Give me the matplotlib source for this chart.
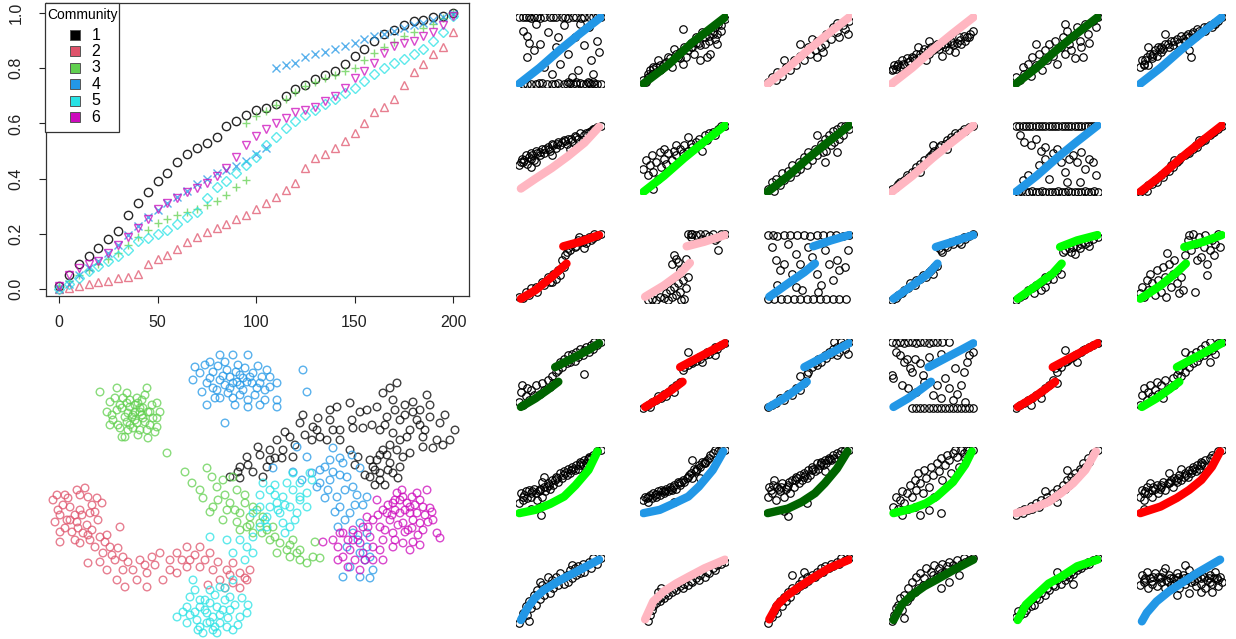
import numpy as np
import matplotlib.pyplot as plt
from matplotlib.patches import Rectangle

plt.rcParams['font.family'] = ['Liberation Sans', 'DejaVu Sans']

W, H = 1236, 639
comm_col = ['#000000', '#DF536B', '#61D04F', '#2297E6', '#28E2E5', '#CD0BBC']
comm_mark = ['o', '^', '+', 'x', 'D', 'v']
communities = ['1', '2', '3', '4', '5', '6']

# ---- top left: cumulative fraction vs rank (rank step 5) ----
frac_1 = [0.01, 0.05, 0.09, 0.12, 0.15, 0.18, 0.21, 0.27, 0.31, 0.35, 0.39, 0.42, 0.46, 0.49,
          0.51, 0.53, 0.55, 0.59, 0.61, 0.63, 0.65, 0.655, 0.67, 0.70, 0.725, 0.74, 0.76, 0.775,
          0.79, 0.815, 0.845, 0.87, 0.90, 0.925, 0.94, 0.955, 0.97, 0.975, 0.985, 0.99, 1.0]
frac_2 = [0.0, 0.005, 0.01, 0.02, 0.025, 0.03, 0.04, 0.045, 0.055, 0.09, 0.11, 0.125, 0.145, 0.17,
          0.19, 0.205, 0.22, 0.235, 0.255, 0.27, 0.29, 0.31, 0.335, 0.36, 0.385, 0.44, 0.475, 0.49,
          0.51, 0.535, 0.565, 0.60, 0.64, 0.66, 0.69, 0.74, 0.785, 0.815, 0.85, 0.875, 0.93]
frac_3a = [0.01, 0.03, 0.05, 0.07, 0.09, 0.11, 0.13, 0.16, 0.19, 0.215, 0.24, 0.255, 0.27, 0.28,
           0.29, 0.305, 0.32, 0.34, 0.37, 0.395]
frac_3b = [0.60, 0.625, 0.645, 0.665, 0.69, 0.715, 0.735, 0.75, 0.765, 0.775, 0.79, 0.80, 0.83,
           0.855, 0.875, 0.895, 0.915, 0.93, 0.945, 0.96, 0.98, 1.0]
frac_4a = [0.0, 0.02, 0.05, 0.075, 0.10, 0.13, 0.16, 0.195, 0.23, 0.26, 0.285, 0.31, 0.335, 0.355,
           0.38, 0.40, 0.42, 0.43, 0.445, 0.465, 0.49, 0.51]
frac_4b = [0.80, 0.81, 0.82, 0.84, 0.85, 0.86, 0.87, 0.88, 0.89, 0.905, 0.915, 0.925, 0.935, 0.945,
           0.955, 0.965, 0.975, 0.985, 0.995]
frac_5 = [0.0, 0.02, 0.04, 0.065, 0.085, 0.10, 0.12, 0.14, 0.175, 0.185, 0.20, 0.215, 0.235, 0.26,
          0.28, 0.33, 0.37, 0.39, 0.42, 0.45, 0.48, 0.52, 0.55, 0.585, 0.61, 0.63, 0.65, 0.67,
          0.69, 0.71, 0.73, 0.755, 0.78, 0.80, 0.82, 0.835, 0.85, 0.87, 0.90, 0.93, 0.99]
frac_6 = [0.01, 0.05, 0.075, 0.09, 0.10, 0.13, 0.16, 0.19, 0.22, 0.255, 0.29, 0.31, 0.33, 0.35,
          0.365, 0.385, 0.41, 0.44, 0.48, 0.52, 0.555, 0.58, 0.60, 0.62, 0.64, 0.65, 0.66, 0.68,
          0.70, 0.73, 0.765, 0.79, 0.82, 0.855, 0.88, 0.89, 0.90, 0.915, 0.93, 0.955, 0.99]
# (community index, first rank, values)
frac_series = [(0, 0, frac_1), (1, 0, frac_2), (2, 0, frac_3a), (2, 95, frac_3b),
               (3, 0, frac_4a), (3, 110, frac_4b), (4, 0, frac_5), (5, 0, frac_6)]

# ---- bottom left: 2-d embedding (pixel-like units) ----
emb_1 = [(230,477),(240,467),(247,457),(258,447),(267,467),(263,477),(253,472),(277,440),(283,450),
         (290,437),(293,457),(300,423),(303,415),(312,440),(317,430),(320,437),(330,420),(333,430),
         (337,407),(340,440),(350,403),(352,420),(353,428),(358,457),(363,428),(367,410),(377,407),
         (383,393),(390,388),(397,383),(393,400),(405,405),(413,402),(427,395),(387,417),(400,420),
         (417,420),(430,417),(440,423),(455,430),(380,430),(393,433),(407,437),(423,437),(437,440),
         (443,445),(383,450),(397,450),(410,453),(423,447),(433,448),(373,467),(380,473),(390,463),
         (400,467),(370,477),(380,480),(393,473),(377,460),(403,457),(387,455),(282,458),(240,478),
         (270,450),(313,427),(327,440),(375,470),(385,485),(420,425),(270,460),
         (405,415),(413,412),(395,410),(385,425),(430,405),(445,415),(450,440),(425,430),(410,430),
         (400,440),(390,445),(380,455),(370,460),(388,470),(398,478),(375,485),(365,475),(355,465),
         (350,450),(340,430),(330,410),(318,418),(305,435),(295,445),(275,458),(260,455),(248,465),
         (238,472),(285,432),(360,412),(372,425),(420,410)]
emb_2 = [(53,500),(63,505),(77,490),(85,488),(88,497),(97,498),(102,503),(58,510),(70,507),(80,510),
         (90,513),(55,522),(67,520),(77,522),(87,525),(98,520),(60,532),(72,532),(83,533),(92,530),
         (100,537),(107,535),(60,542),(80,543),(95,547),(110,547),(120,527),(118,548),(103,553),
         (115,560),(123,557),(100,562),(88,563),(107,570),(123,570),(133,570),(137,580),(147,573),
         (140,560),(152,557),(160,553),(117,580),(125,587),(147,587),(163,580),(170,560),(177,553),
         (187,547),(190,560),(200,547),(210,553),(200,567),(213,570),(227,570),(233,563),(240,573),
         (250,570),(220,580),(233,583),(247,580),(240,588),(177,573),(187,567),(75,515),(65,495),
         (57,495),(68,498),(80,495),(92,505),(60,515),(70,520),(82,515),(95,512),(65,528),(78,528),
         (88,535),(75,540),(90,540),(105,542),(112,555),(128,562),(145,565),(155,565),(170,570),
         (182,560),(195,555),(205,560),(218,562),(230,575),(245,578),(208,585),(225,588)]
emb_3 = [(100,392),(117,388),(147,388),(127,393),(110,402),(120,405),(137,398),(157,403),(107,412),
         (117,410),(130,407),(140,408),(150,412),(133,415),(143,418),(157,418),(113,420),(127,422),
         (137,423),(150,425),(120,428),(133,428),(147,430),(157,427),(122,437),(148,438),(125,437),
         (140,412),(135,412),(132,417),(138,403),(128,413),(142,415),
         (123,398),(145,395),(152,405),(112,415),(122,408),(130,400),(135,420),(145,422),(153,418),
         (118,425),(128,430),(140,430),(155,432),(110,425),(135,405),(142,400),(125,417),(148,412),
         (138,435),(130,425),(115,398),(160,412),(127,403),(143,408),
         (167,453),(185,472),(207,468),(212,477),(192,483),(200,490),(217,487),(223,480),(233,477),
         (237,490),(203,498),(213,507),(230,503),(245,503),(210,512),(227,510),(240,513),(223,520),
         (237,522),(250,517),(257,510),(247,527),(260,523),(253,533),(267,530),(273,527),(270,540),
         (280,543),(287,550),(293,540),(297,553),(290,557),(300,560),(307,563),(315,542),(320,558),
         (313,557),(277,553),(263,517),(253,507),(225,495),(245,495),(235,510),(250,525),(240,530),
         (262,533),(275,537),(290,545),(300,550),(218,500)]
emb_4 = [(195,367),(210,362),(220,355),(233,355),(248,355),(200,373),(213,372),(227,370),(240,375),
         (253,373),(267,370),(193,380),(207,383),(220,380),(233,383),(247,382),(260,383),(277,383),
         (202,392),(217,390),(230,388),(243,390),(257,388),(270,387),(220,398),(233,398),(248,400),
         (277,400),(207,405),(277,407),(248,407),(225,423),(303,370),(307,392),(237,382),(230,377),
         (243,378),
         (205,365),(218,366),(225,362),(238,365),(245,368),(258,366),(210,378),(223,376),(236,372),
         (250,377),(262,377),(270,377),(213,388),(225,385),(240,385),(252,383),(265,390),(228,393),
         (240,395),(255,395),(265,400),(215,398),(235,405),(260,405),
         (297,447),(307,457),(333,448),(340,458),(352,455),(325,467),(333,472),(343,463),(360,468),
         (312,473),(320,483),(347,477),(353,487),(328,490),(337,497),(357,495),(367,497),(325,498),
         (340,507),(350,513),(335,512),(363,505),(338,527),(353,533),(360,523),(367,533),(347,547),
         (360,553),(370,557),(350,567),(343,577),(360,577),(370,578),(373,570),(367,547),(273,468),
         (293,472),(302,480),(317,487),(330,480),(345,490),(355,505),(345,520),(358,540),(365,560),
         (330,460),(320,470),(340,475)]
emb_5 = [(177,617),(187,607),(190,597),(200,600),(210,590),(220,587),(230,597),(233,580),(217,607),
         (207,613),(197,620),(187,623),(200,627),(213,630),(227,627),(233,630),(240,617),(247,613),
         (248,605),(203,633),(217,633),(210,603),(223,610),(200,607),(213,617),(207,623),(220,623),
         (193,580),(210,537),(227,540),(240,540),
         (195,612),(205,600),(215,595),(225,600),(235,605),(220,615),(228,618),(210,622),(198,630),
         (190,615),(183,612),(238,625),(215,627),(205,610),(225,588),(195,590),(242,598),(230,610),
         (233,553),(247,547),(253,537),(260,527),(267,517),(277,503),(283,497),(287,483),(293,490),
         (300,497),(307,493),(270,507),(260,507),(253,513),(280,513),(290,507),(297,513),(283,523),
         (267,527),(290,527),(253,553),(245,560),(263,483),(293,473),(310,473),(300,500),(307,507),
         (312,480),(275,495),(285,533),(260,495),(270,490),(278,510),(295,520),(265,520),(285,505),
         (300,483),(275,485)]
emb_6 = [(323,542),(333,540),(343,533),(353,530),(363,527),(373,520),(383,510),(393,503),(403,497),
         (417,493),(427,490),(430,508),(433,520),(437,533),(440,538),(420,500),(410,507),(400,513),
         (390,520),(380,527),(370,537),(360,543),(350,550),(343,557),(348,567),(360,570),(373,560),
         (383,560),(393,547),(403,543),(413,542),(423,530),(413,520),(403,523),(393,533),(383,540),
         (373,547),(363,553),(407,503),(410,513),(417,513),(400,500),(397,493),(377,500),(387,513),
         (420,523),(338,547),(353,540),(367,517),(423,507),(405,532),(395,510),(412,528),
         (395,500),(405,510),(415,505),(425,515),(398,525),(408,530),(418,535),(428,522),(388,505),
         (378,515),(368,527),(358,535),(348,540),(340,533),(385,530),(395,540),(410,550),(420,545),
         (432,512),(412,497),(402,490),(392,515),(380,550),(365,560),(355,560),(338,560)]
emb_all = [emb_1, emb_2, emb_3, emb_4, emb_5, emb_6]

# ---- right: 6x6 small panels (0-100 units), line knots + black points ----
BLUE, DGREEN, PINK, GREEN, RED = '#2297E6', '#006400', '#FFB6C1', '#00FF00', '#FF0000'
panel_color = [BLUE, DGREEN, PINK, PINK, DGREEN, BLUE,
               PINK, GREEN, DGREEN, PINK, BLUE, RED,
               RED, PINK, BLUE, BLUE, GREEN, GREEN,
               DGREEN, RED, BLUE, BLUE, RED, GREEN,
               GREEN, BLUE, DGREEN, GREEN, PINK, RED,
               BLUE, PINK, RED, DGREEN, GREEN, BLUE]
STR = [(0,0),(25,24),(50,51),(75,76),(100,100)]
panel_line = [
    STR, [(0,0),(30,28),(60,62),(100,100)], STR, STR, STR, STR,
    [(2,5),(20,20),(40,36),(60,54),(80,74),(98,98)], STR, STR, STR, STR, STR,
    [(2,2),(20,15),(40,35),(58,55),None,(54,81),(75,88),(98,98)],
    [(2,5),(25,22),(45,40),(57,56),None,(53,81),(75,88),(100,98)],
    [(2,5),(25,25),(45,42),(58,55),None,(56,81),(78,90),(100,98)],
    [(2,2),(25,22),(45,40),(56,55),None,(54,80),(75,88),(100,98)],
    [(2,2),(25,22),(45,40),(56,55),None,(54,80),(75,90),(100,98)],
    [(0,2),(25,22),(45,42),(56,55),None,(54,80),(78,88),(100,98)],
    [(2,2),(20,15),(35,28),(48,40),None,(44,62),(65,75),(85,88),(98,98)],
    [(2,2),(20,15),(35,28),(48,40),None,(45,62),(65,75),(85,88),(100,98)],
    [(2,2),(20,15),(35,28),(48,40),None,(45,62),(65,75),(85,88),(100,98)],
    [(2,2),(20,15),(35,28),(48,40),None,(45,62),(65,75),(85,88),(100,98)],
    [(2,2),(20,15),(35,28),(48,40),None,(45,62),(65,75),(85,88),(100,98)],
    [(2,2),(20,15),(35,28),(48,40),None,(45,62),(65,75),(85,88),(100,98)],
    [(0,5),(20,10),(38,19),(55,30),(69,47),(85,70),(96,98)],
    [(0,5),(20,10),(38,20),(55,30),(68,45),(85,70),(98,98)],
    [(0,5),(25,12),(42,22),(58,35),(70,50),(85,72),(98,98)],
    [(2,5),(25,12),(42,20),(55,30),(75,52),(90,78),(98,98)],
    [(0,5),(20,12),(40,22),(55,35),(70,50),(85,70),(98,98)],
    [(0,5),(25,15),(45,28),(60,40),(75,55),(88,75),(98,98)],
    [(2,7),(10,25),(19,40),(30,52),(50,67),(75,83),(98,98)],
    [(2,8),(12,35),(25,50),(40,62),(55,72),(75,85),(100,98)],
    [(2,8),(12,30),(25,45),(40,58),(55,70),(75,85),(100,98)],
    [(2,7),(12,30),(25,45),(40,58),(55,68),(75,82),(100,98)],
    [(2,7),(12,30),(25,45),(40,62),(55,72),(75,88),(100,98)],
    [(2,5),(8,18),(20,35),(35,50),(50,62),(70,78),(98,98)],
]
panel_dots = [
    # row 1
    [(0,100),(8,100),(15,99),(22,100),(30,100),(45,100),(60,99),(70,100),(80,100),(90,100),(100,100),
     (5,0),(15,0),(28,1),(40,0),(55,0),(62,1),(70,0),(78,0),(85,1),(92,0),(100,0),(5,80),(10,72),
     (20,90),(18,50),(10,40),(25,60),(35,78),(45,55),(50,30),(55,88),(60,45),(68,70),(72,20),(80,58),
     (85,85),(88,35),(95,65),(98,48),(65,10),(40,15),(30,25),(90,15),(75,90),(12,62),(48,70),(38,100),
     (52,100),(34,0),(48,1),(4,100),(12,100),(18,100),(26,99),(42,100),(56,100),(66,100),(76,99),
     (86,100),(96,100),(10,0),(20,0),(24,1),(44,0),(58,0),(66,0),(74,1),(82,0),(88,0),(96,0),(90,2),
     (84,3),(70,3),(60,2)],
    [(0,5),(5,10),(8,20),(10,15),(15,25),(18,35),(20,20),(25,30),(30,40),(35,25),(40,45),(45,38),(50,55),
     (52,40),(49,82),(60,55),(62,45),(65,70),(70,35),(72,78),(75,60),(80,65),(82,45),(85,75),(88,85),
     (90,60),(95,80),(100,98),(92,90),(48,30),(58,62),(68,62),(78,40),(38,52),(3,2),(12,22),
     (5,15),(8,12),(12,25),(15,18),(20,28),(22,22),(28,32),(32,38),(42,40),(45,48),(55,50),(58,55),
     (65,62),(70,58),(75,70),(80,72),(85,80),(90,75),(95,88),(88,68)],
    [(0,3),(5,10),(10,5),(12,18),(18,12),(22,25),(28,20),(32,35),(35,28),(40,42),(45,35),(50,55),(52,45),
     (58,50),(60,65),(65,55),(70,60),(72,75),(78,68),(80,85),(85,78),(88,70),(92,88),(95,82),(100,95),
     (60,40),(68,48),(40,60),(55,68),(85,92),(98,75),(20,35)],
    [(0,20),(3,28),(5,22),(8,30),(10,25),(12,35),(15,28),(18,38),(20,32),(25,40),(28,35),(30,45),(35,40),
     (38,48),(40,52),(45,45),(48,55),(50,50),(55,60),(58,52),(60,58),(65,55),(68,62),(70,50),(72,65),
     (75,58),(80,62),(82,70),(85,60),(88,72),(90,65),(95,70),(100,80),(42,35),(45,65),(62,42),(78,48),
     (32,55),(2,22),(6,26),(14,30),(22,34),(26,38),(34,44),(44,50),(52,54),(56,56),(64,60),(74,62),
     (84,66),(92,70),(96,75)],
    [(0,10),(5,5),(8,25),(10,15),(15,30),(18,12),(20,40),(25,28),(28,45),(32,20),(35,50),(38,35),(40,60),
     (45,42),(48,65),(50,30),(55,55),(58,70),(60,45),(62,80),(65,60),(68,50),(70,72),(72,38),(75,85),
     (78,65),(80,55),(85,90),(88,75),(90,62),(95,95),(98,85),(100,100),(82,40),(60,90),(25,60)],
    [(0,25),(2,35),(5,30),(8,40),(10,28),(12,45),(15,38),(18,50),(20,42),(22,55),(25,48),(28,52),(30,60),
     (35,55),(38,65),(40,58),(45,68),(48,62),(50,72),(55,65),(58,75),(60,70),(65,78),(68,72),(70,82),
     (75,78),(78,85),(80,80),(85,88),(88,85),(90,92),(95,95),(100,100),(60,50),(62,40),(10,55),(30,75),
     (4,28),(6,35),(14,42),(16,45),(24,52),(26,55),(34,60),(42,65),(52,68),(56,72),(64,75),(72,80),
     (82,85),(92,90)],
    # row 2
    [(0,40),(3,50),(5,45),(8,55),(10,42),(12,52),(15,58),(18,48),(20,62),(25,55),(28,65),(30,58),(35,68),
     (38,62),(40,72),(45,66),(48,75),(50,70),(55,78),(58,72),(60,80),(65,76),(68,84),(72,80),(75,88),
     (80,85),(85,90),(88,92),(92,95),(95,98),(100,100),(20,45),(40,55),(62,65),(15,38),(78,78),
     (2,45),(6,48),(14,50),(16,55),(22,58),(26,60),(32,65),(36,65),(42,70),(46,72),(52,75),(56,76),
     (64,80),(70,82),(82,88),(90,95)],
    [(0,35),(3,48),(5,25),(8,40),(10,55),(12,30),(15,45),(18,20),(20,60),(22,38),(25,50),(28,42),(30,58),
     (35,48),(38,62),(40,55),(45,65),(48,58),(50,70),(55,62),(58,72),(60,68),(65,75),(68,80),(70,72),
     (75,85),(78,78),(80,88),(85,90),(88,85),(92,95),(95,100),(100,100),(40,70),(12,5),(55,82),(25,65),
     (72,62)],
    [(0,5),(5,15),(8,2),(10,20),(15,10),(18,28),(20,18),(25,32),(28,22),(30,40),(35,30),(38,45),(40,35),
     (45,52),(48,40),(50,60),(55,48),(58,65),(60,55),(65,72),(68,60),(70,80),(72,62),(75,85),(78,70),
     (80,92),(82,75),(85,95),(88,80),(90,100),(92,85),(95,100),(100,95),(70,45),(85,60),(60,85)],
    [(0,5),(5,8),(8,12),(10,15),(15,18),(18,25),(20,22),(25,30),(28,32),(30,38),(35,42),(38,40),(40,48),
     (45,52),(48,55),(50,58),(52,62),(55,60),(58,68),(60,70),(65,72),(68,78),(70,75),(72,82),(75,80),
     (78,88),(80,85),(85,90),(88,95),(90,92),(95,98),(100,100),(50,70),(68,65),(35,30)],
    [(0,100),(8,100),(16,100),(24,99),(32,100),(40,100),(48,100),(56,100),(64,99),(72,100),(80,100),
     (88,100),(96,100),(2,0),(12,0),(20,1),(28,0),(36,0),(44,0),(52,1),(60,0),(68,0),(76,0),(84,1),
     (92,0),(100,0),(5,85),(10,75),(18,70),(25,80),(30,62),(35,68),(45,58),(50,65),(55,45),(28,40),
     (15,25),(8,18),(40,20),(60,30),(65,50),(70,55),(75,45),(80,60),(85,35),(90,50),(95,45),(98,25),
     (62,15),(78,15),(35,50),(4,100),(12,99),(20,100),(28,100),(36,99),(44,100),(52,100),(60,100),
     (68,100),(76,100),(84,99),(92,100),(6,1),(16,0),(24,0),(32,1),(40,0),(48,0),(56,0),(64,1),(72,0),
     (80,0),(88,0),(96,1)],
    [(0,0),(5,5),(8,2),(10,10),(15,12),(18,18),(20,15),(25,25),(28,22),(30,30),(35,32),(38,40),(40,38),
     (45,45),(48,48),(50,52),(55,55),(58,60),(60,58),(65,65),(68,70),(70,68),(75,75),(78,80),(80,78),
     (85,85),(88,88),(90,90),(95,95),(100,100),(42,48),(72,78)],
    # row 3
    [(0,5),(5,3),(8,12),(12,8),(15,18),(20,20),(22,12),(28,28),(30,22),(35,35),(38,28),(42,40),(45,32),
     (48,45),(50,38),(55,50),(52,60),(56,68),(58,72),(60,78),(62,75),(65,85),(68,80),(70,82),(72,90),
     (73,95),(78,88),(80,92),(82,86),(85,95),(88,90),(90,94),(92,100),(95,96),(100,100),(80,78),(40,28)],
    [(5,0),(10,2),(15,0),(20,5),(25,3),(28,10),(30,0),(32,15),(35,5),(38,20),(40,8),(42,25),(45,12),
     (48,30),(50,2),(52,18),(55,35),(45,45),(40,62),(38,68),(42,58),(52,62),(55,100),(58,95),(60,100),
     (65,98),(70,100),(72,92),(75,100),(80,96),(85,100),(88,90),(90,94),(92,75),(95,100),(100,100),
     (35,55),(46,0),(58,100)],
    [(0,98),(6,98),(12,97),(20,98),(28,98),(36,98),(44,98),(52,97),(60,98),(68,98),(76,98),(84,98),
     (92,97),(100,98),(0,2),(8,2),(16,2),(24,2),(32,1),(40,2),(48,2),(56,1),(64,2),(72,2),(80,2),(88,1),
     (96,2),(5,80),(10,60),(15,45),(20,55),(25,85),(30,40),(35,70),(12,22),(40,55),(42,15),(50,80),
     (55,65),(60,40),(65,22),(70,75),(75,55),(80,30),(85,60),(88,45),(95,50),(98,75),(62,12),(35,20)],
    [(0,0),(5,3),(8,8),(12,10),(15,15),(20,18),(22,25),(28,22),(30,30),(35,32),(38,38),(42,35),(45,42),
     (48,45),(52,50),(55,52),(58,78),(60,75),(65,82),(68,80),(72,88),(75,85),(80,90),(82,88),(88,95),
     (90,92),(95,97),(100,100),(50,40),(62,72),(85,85)],
    [(0,0),(5,5),(10,8),(15,15),(20,18),(25,22),(30,28),(35,35),(38,30),(42,38),(45,32),(50,45),(55,40),
     (22,10),(30,15),(58,72),(60,75),(65,78),(68,72),(70,80),(75,82),(78,78),(80,85),(85,84),(88,88),
     (90,82),(95,92),(100,95),(72,70),(35,20)],
    [(0,10),(2,20),(5,5),(8,30),(10,15),(12,40),(15,25),(18,8),(20,45),(22,30),(25,12),(28,50),(30,35),
     (32,5),(35,55),(38,20),(40,40),(42,60),(45,25),(48,10),(50,35),(52,15),(55,68),(58,90),(60,98),
     (62,75),(65,100),(68,85),(70,60),(72,95),(75,65),(78,80),(80,98),(82,55),(85,75),(88,90),(90,68),
     (92,85),(95,100),(98,80),(67,12),(33,71),(82,38)],
    # row 4
    [(0,10),(2,25),(5,5),(8,18),(10,30),(12,12),(15,28),(18,20),(20,35),(25,22),(28,38),(30,28),(35,42),
     (38,32),(40,48),(42,38),(45,55),(48,58),(50,70),(52,62),(55,75),(58,68),(60,80),(62,70),(65,82),
     (68,72),(70,85),(72,78),(75,90),(78,80),(80,88),(82,92),(85,85),(88,95),(90,90),(92,100),(95,95),
     (100,100),(80,52),(3,35)],
    [(0,0),(5,5),(8,2),(10,10),(15,12),(18,18),(22,15),(25,22),(30,25),(35,30),(40,35),(45,40),(28,18),
     (38,25),(48,58),(50,62),(55,65),(58,70),(60,68),(65,72),(68,78),(70,75),(75,80),(78,85),(80,82),
     (85,88),(88,92),(90,90),(95,95),(100,98),(55,85),(72,70),(88,80)],
    [(0,2),(5,5),(10,8),(15,15),(20,12),(25,22),(30,20),(35,30),(40,28),(45,38),(48,52),(50,55),(55,62),
     (58,68),(60,65),(62,75),(65,70),(70,80),(72,76),(75,85),(78,82),(80,90),(82,100),(85,92),(88,85),
     (90,100),(92,95),(95,90),(100,100),(85,80),(40,48),(98,82)],
    [(0,100),(5,98),(10,100),(15,99),(20,100),(25,100),(30,98),(35,100),(40,100),(45,99),(50,100),
     (55,100),(62,100),(70,100),(25,0),(30,1),(35,0),(40,1),(45,0),(50,0),(55,1),(60,0),(65,0),(70,1),
     (75,0),(80,1),(85,0),(90,0),(95,1),(100,0),(0,50),(2,45),(5,85),(10,80),(12,35),(15,70),(18,75),
     (20,30),(22,60),(25,55),(28,75),(30,25),(35,68),(38,50),(40,40),(45,78),(50,20),(55,35),(60,15),
     (65,45),(70,30),(75,12),(80,22),(85,35),(88,55),(92,70),(95,80),(100,85),(90,10),(60,82),(78,60)],
    [(0,0),(5,5),(10,8),(15,12),(20,15),(25,20),(30,25),(35,30),(40,35),(45,42),(50,38),(18,5),(30,15),
     (48,60),(52,65),(55,62),(60,70),(62,72),(65,75),(70,78),(72,80),(75,82),(80,85),(82,88),(85,90),
     (90,92),(95,95),(100,98),(60,88),(75,70),(50,55)],
    [(0,5),(2,20),(5,30),(8,12),(10,25),(12,35),(15,18),(18,28),(20,40),(22,22),(25,35),(28,15),(30,42),
     (35,30),(40,45),(42,35),(45,50),(48,58),(50,48),(52,65),(55,55),(58,72),(60,62),(62,80),(65,68),
     (68,85),(70,72),(72,78),(75,90),(78,80),(80,95),(82,85),(85,100),(88,88),(90,92),(92,82),(95,98),
     (100,100),(55,85),(85,70)],
    # row 5
    [(0,20),(2,35),(5,25),(8,38),(10,28),(12,40),(15,30),(18,42),(20,35),(22,25),(25,40),(28,30),(30,45),
     (32,38),(35,50),(38,42),(40,55),(42,48),(45,60),(48,52),(50,65),(52,58),(55,68),(58,62),(60,72),
     (62,65),(65,75),(68,70),(70,78),(72,72),(75,82),(78,78),(80,85),(82,80),(85,90),(88,88),(90,92),
     (95,98),(100,100),(30,60),(15,12),(25,15),(28,52),(27,2),(4,30),(6,32),(14,35),(16,38),(24,38),
     (26,42),(34,45),(36,48),(44,55),(46,58),(54,62),(56,66),(64,70),(66,72),(74,78),(76,80),(84,86),
     (86,88)],
    [(0,25),(2,30),(5,22),(8,32),(10,28),(12,35),(15,30),(18,38),(20,32),(22,40),(25,35),(28,42),(30,38),
     (32,45),(35,40),(38,48),(40,42),(42,52),(45,48),(48,55),(50,52),(55,60),(58,65),(60,58),(62,72),
     (65,68),(68,78),(70,75),(72,82),(75,80),(78,85),(80,88),(82,92),(85,95),(88,100),(92,98),(95,100),
     (100,100),(60,85),(38,22),(70,58),(4,28),(6,30),(14,32),(16,34),(24,38),(26,38),(34,42),(36,44),
     (44,50),(46,52),(54,58),(56,62),(64,70),(66,72),(74,80),(76,82)],
    [(0,30),(2,45),(5,35),(8,55),(10,25),(12,45),(15,38),(18,50),(20,30),(22,42),(25,48),(28,35),(30,55),
     (32,45),(35,60),(38,50),(40,62),(42,55),(45,65),(48,58),(50,70),(52,62),(55,75),(58,68),(60,80),
     (62,72),(65,82),(68,78),(70,85),(72,80),(75,88),(78,85),(80,92),(82,88),(85,95),(88,92),(90,98),
     (95,100),(100,100),(20,8),(25,0),(48,20),(70,68),(4,40),(6,48),(14,42),(16,45),(24,45),(26,52),
     (34,55),(36,58),(44,60),(46,62),(54,70),(56,72),(64,78),(66,80),(74,85),(76,86)],
    [(2,15),(5,30),(8,12),(10,25),(12,38),(15,20),(18,35),(20,12),(22,48),(25,30),(28,55),(30,40),(32,65),
     (35,50),(38,35),(40,70),(42,58),(45,45),(48,75),(50,62),(52,30),(55,80),(58,68),(60,88),(62,55),
     (65,78),(68,92),(70,85),(72,65),(75,95),(78,100),(80,90),(82,75),(85,100),(88,95),(90,88),(92,100),
     (95,100),(100,100),(45,10),(60,5),(35,2),(28,15),(12,2)],
    [(0,2),(5,8),(8,5),(10,12),(15,10),(18,16),(20,12),(25,20),(28,15),(30,25),(35,22),(38,30),(40,25),
     (45,35),(48,30),(50,42),(55,38),(58,48),(60,42),(62,55),(65,48),(68,60),(70,55),(72,65),(75,60),
     (78,72),(80,68),(82,80),(85,75),(88,88),(90,82),(95,95),(100,100),(50,22),(62,70),(35,38)],
    [(0,30),(2,40),(5,25),(8,45),(10,35),(12,50),(15,30),(18,42),(20,48),(22,35),(25,45),(28,52),(30,40),
     (35,50),(38,55),(40,45),(42,58),(45,52),(48,62),(50,55),(55,65),(58,60),(60,70),(62,65),(65,75),
     (68,68),(70,78),(72,72),(75,82),(78,78),(80,85),(85,88),(88,92),(90,90),(95,98),(100,100),(50,72),
     (5,12),(35,65),(4,35),(6,38),(14,40),(16,44),(24,42),(26,48),(34,50),(36,52),(44,55),(46,58),
     (54,60),(56,62),(64,70),(66,72),(74,78),(76,80)],
    # row 6
    [(0,2),(3,10),(5,18),(8,28),(10,15),(12,35),(15,25),(18,45),(20,30),(22,52),(25,38),(28,60),(30,45),
     (35,58),(38,48),(40,68),(42,55),(45,72),(48,60),(50,78),(55,62),(58,75),(60,65),(62,82),(65,70),
     (68,85),(70,75),(72,88),(75,78),(78,92),(80,80),(85,95),(88,85),(90,100),(95,92),(100,100),(25,65),
     (35,72),(12,5),(65,90)],
    [(5,5),(8,15),(10,22),(12,28),(15,32),(18,38),(20,35),(22,42),(25,40),(28,48),(30,45),(35,50),(38,55),
     (40,52),(45,58),(48,55),(50,62),(55,60),(58,66),(60,65),(65,70),(68,68),(70,75),(75,72),(78,80),
     (80,78),(85,85),(88,82),(90,90),(95,92),(100,95),(22,55),(18,50)],
    [(0,2),(5,12),(8,20),(10,28),(12,18),(15,35),(18,28),(20,42),(22,35),(25,50),(28,42),(30,55),(35,52),
     (38,62),(40,58),(42,68),(45,62),(48,72),(50,66),(55,75),(58,72),(60,80),(62,76),(65,85),(68,80),
     (70,88),(75,85),(78,92),(80,88),(85,95),(88,92),(90,100),(95,98),(100,100),(30,75),(45,80)],
    [(0,5),(3,15),(5,25),(8,30),(10,40),(12,22),(15,45),(18,35),(20,55),(22,42),(25,65),(28,50),(30,72),
     (32,55),(35,78),(38,60),(40,70),(42,85),(45,65),(48,80),(50,75),(52,90),(55,72),(58,85),(60,78),
     (62,92),(65,80),(68,88),(70,95),(75,90),(78,85),(80,98),(85,92),(88,100),(90,95),(95,98),(100,100),
     (60,55),(70,65),(82,75),(15,10)],
    [(0,12),(2,20),(5,15),(8,25),(10,18),(12,22),(15,32),(18,28),(20,38),(22,30),(25,40),(28,38),(30,48),
     (35,45),(38,55),(40,52),(45,60),(48,58),(50,68),(55,62),(58,72),(60,68),(62,75),(65,72),(68,80),
     (70,76),(72,85),(75,82),(78,88),(80,85),(85,90),(88,95),(90,92),(95,98),(100,100),(50,80),(70,62)],
    [(0,60),(2,75),(5,65),(8,80),(10,55),(12,70),(15,62),(18,78),(20,58),(22,72),(25,65),(28,80),(30,55),
     (32,68),(35,75),(38,60),(40,70),(42,62),(45,78),(48,55),(50,68),(52,75),(55,62),(58,72),(60,82),
     (62,65),(65,75),(68,58),(70,70),(72,80),(75,62),(78,72),(80,55),(82,68),(85,75),(88,62),(90,70),
     (92,80),(95,58),(98,72),(100,65),(45,45),(60,48),(75,50),(88,50),(55,90),(30,85),(4,68),(6,70),
     (14,66),(16,72),(24,70),(26,72),(34,66),(36,70),(44,68),(46,72),(54,70),(56,68),(64,70),(66,66),
     (74,70),(76,75),(84,70),(86,65),(94,70),(96,68)],
]


def fig_rect(x0, y0, w, h):
    # pixel box (top-left origin) -> figure fraction rect
    return [x0 / W, 1 - (y0 + h) / H, w / W, h / H]


fig = plt.figure(figsize=(W / 100, H / 100), dpi=100)

# ---------- top-left panel ----------
ax = fig.add_axes(fig_rect(46, 3, 423, 293))
for ci, start, vals in frac_series:
    xs = np.arange(start, start + 5 * len(vals), 5)
    ax.plot(xs, vals, ls='none', marker=comm_mark[ci], ms=6 if ci != 4 else 5,
            mfc='none', mec=comm_col[ci], mew=1.0, alpha=0.75 if ci else 0.85)
ax.set_xlim(-6.6, 208.1)
ax.set_ylim(-0.025, 1.036)
ax.set_xticks([0, 50, 100, 150, 200])
ax.set_yticks([0, 0.2, 0.4, 0.6, 0.8, 1.0])
ax.set_yticklabels(['0.0', '0.2', '0.4', '0.6', '0.8', '1.0'])
ax.tick_params(length=5, width=0.8, labelsize=11.5, colors='#222222')
ax.tick_params(axis='x', pad=9)
ax.tick_params(axis='y', pad=11, labelrotation=90)
for lab in ax.get_yticklabels():
    lab.set_va('center')
for s in ax.spines.values():
    s.set_linewidth(0.9)
    s.set_color('#333333')

# legend drawn as in base R
fig.patches.append(Rectangle((45 / W, 1 - 132 / H), 74 / W, 129 / H, transform=fig.transFigure,
                             fill=True, facecolor='white', edgecolor='#333333', lw=0.9))
fig.text(82 / W, 1 - 15 / H, 'Community', ha='center', va='center', fontsize=10)
for k, name in enumerate(communities):
    yc = 35 + 16.4 * k
    fig.patches.append(Rectangle(((75 - 5) / W, 1 - (yc + 5) / H), 10 / W, 10 / H,
                                 transform=fig.transFigure, facecolor=comm_col[k],
                                 edgecolor='#555555', lw=0.7))
    fig.text(96 / W, 1 - yc / H, name, ha='center', va='center', fontsize=11.5)

# ---------- bottom-left embedding ----------
ax2 = fig.add_axes(fig_rect(0, 340, 480, 299))
for k, pts in enumerate(emb_all):
    px = [p[0] for p in pts]
    py = [p[1] for p in pts]
    ax2.scatter(px, py, s=30, facecolors='none', edgecolors=comm_col[k], linewidths=1.0,
                alpha=0.75)
ax2.set_xlim(0, 480)
ax2.set_ylim(639, 340)
ax2.axis('off')

# ---------- right: 6 x 6 grid ----------
for i in range(36):
    r, c = divmod(i, 6)
    left = 516 + 124.2 * c
    top = 14 + 108.2 * r
    a = fig.add_axes(fig_rect(left, top, 88, 73))
    dots = panel_dots[i]
    a.plot([d[0] for d in dots], [d[1] for d in dots], ls='none', marker='o', ms=5.4,
           mfc='none', mec='black', mew=0.85)
    lx = [np.nan if p is None else p[0] for p in panel_line[i]]
    ly = [np.nan if p is None else p[1] for p in panel_line[i]]
    a.plot(lx, ly, color=panel_color[i], lw=6, solid_capstyle='round', solid_joinstyle='round')
    a.set_xlim(-4, 104)
    a.set_ylim(-5, 105)
    a.axis('off')

fig.savefig('out.png', dpi=100)
